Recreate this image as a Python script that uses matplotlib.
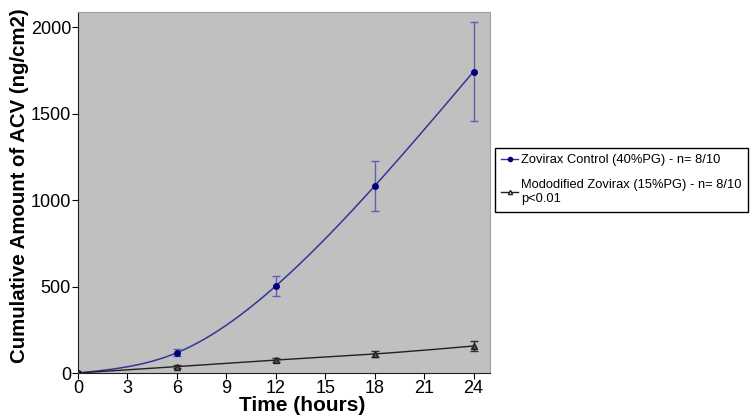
import numpy as np
import matplotlib
matplotlib.use("Agg")
import matplotlib.pyplot as plt
from matplotlib.lines import Line2D

plt.rcParams['font.family'] = ['Liberation Sans', 'DejaVu Sans']

time_h = [0, 6, 12, 18, 24]
control = [0, 117, 503, 1081, 1742]
control_err = [0, 20, 55, 145, 285]
modified = [0, 37, 75, 110, 156]
modified_err = [0, 8, 10, 15, 30]
xticks = [0, 3, 6, 9, 12, 15, 18, 21, 24]
yticks = [0, 500, 1000, 1500, 2000]
label_control = "Zovirax Control (40%PG) - n= 8/10"
label_modified = "Mododified Zovirax (15%PG) - n= 8/10\np<0.01"


def natural_spline(x, y, n=300):
    x = np.asarray(x, float)
    y = np.asarray(y, float)
    m = len(x)
    h = np.diff(x)
    A = np.zeros((m, m))
    b = np.zeros(m)
    A[0, 0] = A[-1, -1] = 1
    for i in range(1, m - 1):
        A[i, i - 1] = h[i - 1]
        A[i, i] = 2 * (h[i - 1] + h[i])
        A[i, i + 1] = h[i]
        b[i] = 6 * ((y[i + 1] - y[i]) / h[i] - (y[i] - y[i - 1]) / h[i - 1])
    M = np.linalg.solve(A, b)
    xs = np.linspace(x[0], x[-1], n)
    ys = np.empty_like(xs)
    for k, xv in enumerate(xs):
        i = min(np.searchsorted(x, xv, side='right') - 1, m - 2)
        t1 = x[i + 1] - xv
        t0 = xv - x[i]
        ys[k] = (M[i] * t1 ** 3 / (6 * h[i]) + M[i + 1] * t0 ** 3 / (6 * h[i])
                 + (y[i] / h[i] - M[i] * h[i] / 6) * t1
                 + (y[i + 1] / h[i] - M[i + 1] * h[i] / 6) * t0)
    return xs, ys


fig = plt.figure(figsize=(7.51, 4.16), dpi=100)
ax = fig.add_axes([78 / 751, 43 / 416, (490 - 78) / 751, (373 - 12) / 416])
ax.set_facecolor('#c0c0c0')

blue = '#000080'
line_blue = '#34349a'

xs, ys = natural_spline(time_h, control)
ax.plot(xs, ys, color=line_blue, lw=1.1, zorder=3)
ax.errorbar(time_h, control, yerr=control_err, fmt='o', color=blue, ms=4,
            ecolor='#6060a8', elinewidth=1, capsize=3, capthick=1, zorder=4)

xs2, ys2 = natural_spline(time_h, modified)
ax.plot(xs2, ys2, color='#202020', lw=1.0, zorder=3)
ax.errorbar(time_h, modified, yerr=modified_err, fmt='^', color='#202020', ms=4,
            mfc='#505050', mec='#202020', ecolor='#303030', elinewidth=1,
            capsize=3, capthick=1, zorder=4)

ax.set_xlim(0, 25)
ax.set_ylim(0, 2087)
ax.set_xticks(xticks)
ax.set_yticks(yticks)
ax.tick_params(axis='both', labelsize=13, length=4, direction='out', pad=1)
for s in ['top', 'right']:
    ax.spines[s].set_color('#a0a0a0')
for s in ['left', 'bottom']:
    ax.spines[s].set_color('#202020')

ax.set_xlabel('Time (hours)', fontsize=15, fontweight='bold')
ax.xaxis.set_label_coords((302 - 78) / (490 - 78), -(411 - 373) / (373 - 12), transform=ax.transAxes)
ax.xaxis.label.set_va('baseline')
ax.set_ylabel('Cumulative Amount of ACV (ng/cm2)', fontsize=14.7, fontweight='bold')
ax.yaxis.set_label_coords(-(78 - 20) / (490 - 78), (373 - 186) / (373 - 12), transform=ax.transAxes)
ax.yaxis.label.set_va('center')

handles = [
    Line2D([], [], color=line_blue, marker='o', ms=3, mfc=blue, mec=blue, lw=1),
    Line2D([], [], color='#202020', marker='^', ms=3, mfc='white', mec='#202020', lw=1),
]
leg = fig.legend(handles, [label_control, label_modified], loc='upper left',
                 bbox_to_anchor=(495 / 751, 1 - 148 / 416), fontsize=9.3,
                 frameon=True, fancybox=False, edgecolor='black', framealpha=1,
                 handlelength=1.3, handletextpad=0.25, labelspacing=1.0,
                 borderpad=0.5, borderaxespad=0)
leg.get_frame().set_linewidth(1)

fig.savefig('out.png', dpi=100)
